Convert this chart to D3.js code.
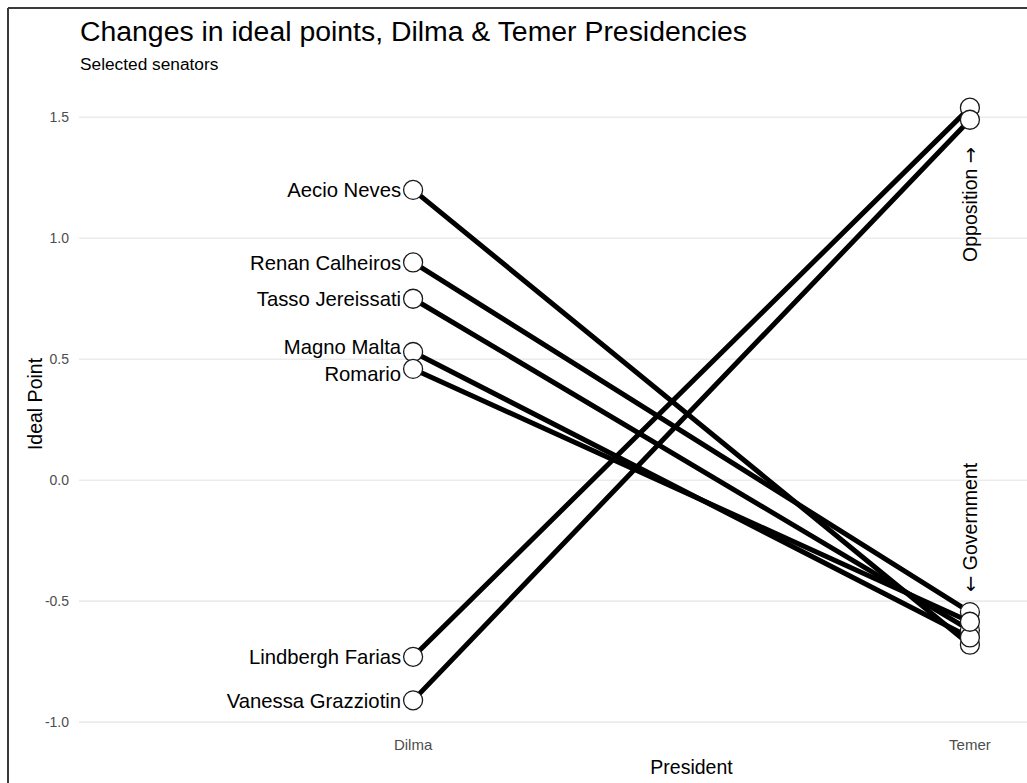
<!DOCTYPE html>
<html lang="en">
<head>
    <meta charset="UTF-8">
    <title>Changes in ideal points, Dilma & Temer Presidencies</title>
    <script src="https://d3js.org/d3.v7.min.js"></script>
    <style>
        body {
            margin: 0;
            overflow: hidden;
            background: #ffffff;
            font-family: 'Liberation Sans', Arial, Helvetica, sans-serif;
        }

        svg {
            display: block;
        }

        .grid line {
            stroke: #ebebeb;
            stroke-width: 1.6;
        }

        .tick-label {
            fill: #4d4d4d;
        }

        .slope {
            fill: none;
            stroke: #000;
            stroke-width: 5;
            stroke-linecap: round;
        }

        .dot {
            fill: #fff;
            stroke: #1a1a1a;
            stroke-width: 1.3;
        }

        .arrow {
            font-family: 'DejaVu Sans', sans-serif;
        }
    </style>
</head>
<body>
    <svg></svg>

    <script>
        const width = 1027;
        const height = 783;

        // Data
        const presidents = ["Dilma", "Temer"];
        const senators = ["Aecio Neves", "Renan Calheiros", "Tasso Jereissati", "Magno Malta",
                          "Romario", "Lindbergh Farias", "Vanessa Grazziotin"];
        const dilmaPoints = [1.20, 0.90, 0.75, 0.53, 0.46, -0.73, -0.91];
        const temerPoints = [-0.68, -0.545, -0.62, -0.65, -0.585, 1.54, 1.49];
        const yTicks = [-1.0, -0.5, 0.0, 0.5, 1.0, 1.5];
        // side notes: [text before arrow, arrow, text after arrow]
        const sideLabels = [["Opposition ", "\u2192", ""], ["", "\u2190", " Government"]];
        const sideLabelValues = [1.14, -0.195];

        const svg = d3.select("svg")
            .attr("width", width)
            .attr("height", height);

        // Panel runs past the right edge (the original is cropped there)
        const panel = { left: 79, right: 1304, top: 78, bottom: 730 };

        const x = d3.scalePoint()
            .domain(presidents)
            .range([panel.left, panel.right])
            .padding(0.6);

        // ggplot-style 5% expansion of the data range
        const allValues = dilmaPoints.concat(temerPoints);
        const [lo, hi] = d3.extent(allValues);
        const pad = (hi - lo) * 0.05;
        const y = d3.scaleLinear()
            .domain([lo - pad, hi + pad])
            .range([panel.bottom, panel.top]);

        // Frame on top and left
        svg.append("line")
            .attr("x1", 8).attr("y1", 8).attr("x2", width).attr("y2", 8)
            .attr("stroke", "#3a3a3a").attr("stroke-width", 2);
        svg.append("line")
            .attr("x1", 8).attr("y1", 8).attr("x2", 8).attr("y2", height)
            .attr("stroke", "#3a3a3a").attr("stroke-width", 2);

        // Gridlines
        svg.append("g")
            .attr("class", "grid")
            .selectAll("line")
            .data(yTicks)
            .enter().append("line")
            .attr("x1", panel.left)
            .attr("x2", panel.right)
            .attr("y1", d => y(d))
            .attr("y2", d => y(d));

        // Y tick labels (plain hyphen minus, as in the original)
        svg.append("g")
            .selectAll("text")
            .data(yTicks)
            .enter().append("text")
            .attr("class", "tick-label")
            .attr("x", 69)
            .attr("y", d => y(d))
            .attr("dy", "0.36em")
            .attr("text-anchor", "end")
            .style("font-size", "14px")
            .text(d => d.toFixed(1));

        // X tick labels
        svg.append("g")
            .selectAll("text")
            .data(presidents)
            .enter().append("text")
            .attr("class", "tick-label")
            .attr("x", d => x(d))
            .attr("y", 750)
            .attr("text-anchor", "middle")
            .style("font-size", "15px")
            .text(d => d);

        // Slopes
        const rows = senators.map((name, i) => ({
            name: name,
            dilma: dilmaPoints[i],
            temer: temerPoints[i]
        }));

        svg.append("g")
            .selectAll("line")
            .data(rows)
            .enter().append("line")
            .attr("class", "slope")
            .attr("x1", x("Dilma"))
            .attr("y1", d => y(d.dilma))
            .attr("x2", x("Temer"))
            .attr("y2", d => y(d.temer));

        // Points at both ends
        const points = [];
        rows.forEach(d => {
            points.push({ president: "Dilma", value: d.dilma });
            points.push({ president: "Temer", value: d.temer });
        });

        svg.append("g")
            .selectAll("circle")
            .data(points)
            .enter().append("circle")
            .attr("class", "dot")
            .attr("cx", d => x(d.president))
            .attr("cy", d => y(d.value))
            .attr("r", 9.5);

        // Name labels on the Dilma side, nudged apart when they crowd
        const labelPos = rows.map(d => ({ name: d.name, ly: y(d.dilma) }))
            .sort((a, b) => a.ly - b.ly);
        const minGap = 27;
        for (let i = 1; i < labelPos.length; i++) {
            const gap = labelPos[i].ly - labelPos[i - 1].ly;
            if (gap < minGap) {
                const shift = (minGap - gap) / 2;
                labelPos[i - 1].ly -= shift;
                labelPos[i].ly += shift;
            }
        }

        svg.append("g")
            .selectAll("text")
            .data(labelPos)
            .enter().append("text")
            .attr("x", x("Dilma") - 12)
            .attr("y", d => d.ly)
            .attr("dy", "0.36em")
            .attr("text-anchor", "end")
            .style("font-size", "20.3px")
            .style("fill", "#000")
            .text(d => d.name);

        // Opposition / Government annotations
        const side = svg.append("g")
            .selectAll("text")
            .data(sideLabels)
            .enter().append("text")
            .attr("transform", (d, i) => `translate(${x("Temer")},${y(sideLabelValues[i])}) rotate(-90)`)
            .attr("dy", "0.36em")
            .attr("text-anchor", "middle")
            .style("font-size", "19.5px")
            .style("fill", "#000");

        side.append("tspan").text(d => d[0]);
        side.append("tspan").attr("class", "arrow").text(d => d[1]);
        side.append("tspan").text(d => d[2]);

        // Axis titles
        svg.append("text")
            .attr("x", (panel.left + panel.right) / 2)
            .attr("y", 774)
            .attr("text-anchor", "middle")
            .style("font-size", "19.5px")
            .text("President");

        svg.append("text")
            .attr("transform", `translate(42,${(panel.top + panel.bottom) / 2}) rotate(-90)`)
            .attr("text-anchor", "middle")
            .style("font-size", "19.5px")
            .text("Ideal Point");

        // Title and subtitle
        svg.append("text")
            .attr("x", 80)
            .attr("y", 41)
            .style("font-size", "28.4px")
            .text("Changes in ideal points, Dilma & Temer Presidencies");

        svg.append("text")
            .attr("x", 80)
            .attr("y", 70)
            .style("font-size", "17.3px")
            .text("Selected senators");
    </script>
</body>
</html>
